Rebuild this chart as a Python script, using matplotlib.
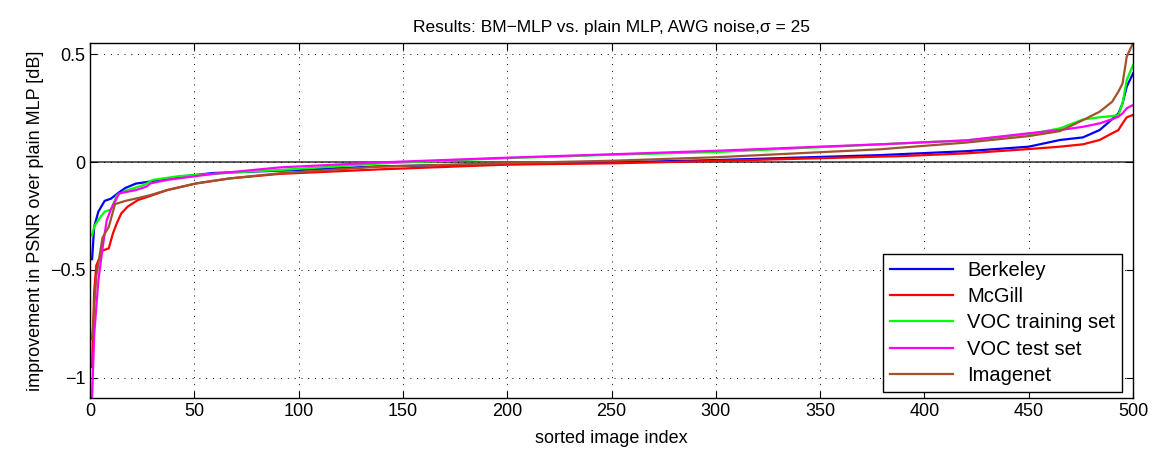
import matplotlib
matplotlib.use('Agg')
import matplotlib.pyplot as plt

plt.rcParams['font.family'] = ['Liberation Sans', 'DejaVu Sans']

# sorted image index -> improvement [dB]
berkeley_idx = [1, 2, 4, 7, 10, 14, 17, 22, 27, 43, 59, 91, 100, 139, 200, 251, 300, 379, 388, 420, 450, 465, 476, 484, 490, 493, 495, 497, 500]
berkeley_val = [-0.45, -0.30, -0.23, -0.18, -0.17, -0.14, -0.12, -0.10, -0.093, -0.068, -0.051, -0.040, -0.037, -0.02, -0.01, -0.002, 0.009, 0.032, 0.036, 0.05, 0.071, 0.102, 0.114, 0.148, 0.198, 0.225, 0.272, 0.349, 0.41]

mcgill_idx = [1, 2, 3, 6, 9, 11, 13, 15, 18, 23, 29, 37, 51, 67, 91, 139, 200, 251, 300, 379, 388, 420, 450, 465, 476, 484, 490, 493, 495, 497, 500]
mcgill_val = [-0.95, -0.6, -0.48, -0.41, -0.40, -0.33, -0.28, -0.238, -0.207, -0.176, -0.157, -0.13, -0.099, -0.076, -0.055, -0.034, -0.012, -0.006, 0.005, 0.025, 0.027, 0.04, 0.06, 0.071, 0.082, 0.102, 0.133, 0.148, 0.179, 0.207, 0.218]

voc_train_idx = [1, 2, 4, 7, 10, 13, 18, 26, 30, 43, 75, 91, 139, 200, 251, 300, 379, 388, 420, 450, 465, 476, 484, 490, 493, 495, 497, 500]
voc_train_val = [-0.34, -0.30, -0.268, -0.23, -0.22, -0.153, -0.13, -0.106, -0.083, -0.065, -0.045, -0.037, -0.007, 0.018, 0.034, 0.046, 0.082, 0.086, 0.10, 0.129, 0.156, 0.197, 0.207, 0.213, 0.217, 0.272, 0.38, 0.449]

voc_test_idx = [1, 2, 4, 6, 8, 10, 14, 22, 27, 29, 37, 59, 91, 139, 200, 251, 300, 379, 388, 420, 450, 465, 476, 484, 490, 493, 495, 497, 500]
voc_test_val = [-1.09, -0.8, -0.55, -0.40, -0.27, -0.22, -0.145, -0.13, -0.114, -0.099, -0.083, -0.055, -0.025, -0.002, 0.02, 0.036, 0.052, 0.082, 0.086, 0.10, 0.133, 0.148, 0.163, 0.179, 0.198, 0.21, 0.225, 0.249, 0.264]

imagenet_idx = [1, 3, 6, 9, 12, 17, 24, 29, 37, 51, 67, 91, 139, 200, 251, 300, 379, 388, 420, 450, 465, 476, 484, 490, 493, 495, 497, 500]
imagenet_val = [-0.82, -0.53, -0.35, -0.30, -0.195, -0.18, -0.165, -0.153, -0.13, -0.099, -0.076, -0.052, -0.021, -0.005, 0.006, 0.022, 0.059, 0.066, 0.09, 0.12, 0.143, 0.194, 0.233, 0.279, 0.326, 0.364, 0.488, 0.55]

series = [
    ('Berkeley', berkeley_idx, berkeley_val, '#0000ff'),
    ('McGill', mcgill_idx, mcgill_val, '#ff0000'),
    ('VOC training set', voc_train_idx, voc_train_val, '#00ff00'),
    ('VOC test set', voc_test_idx, voc_test_val, '#ff00ff'),
    ('Imagenet', imagenet_idx, imagenet_val, '#a0522d'),
]

fig = plt.figure(figsize=(11.54, 4.53), dpi=100)
ax = fig.add_axes([0.078, 0.1214, 0.9038, 0.7836])

ax.axhline(0, color='0.25', lw=1.2, zorder=1)
for name, xi, yi, c in series:
    ax.plot(xi, yi, color=c, lw=1.6, label=name, zorder=2)

ax.set_xlim(0, 500)
ax.set_ylim(-1.093, 0.551)
ax.set_xticks(range(0, 501, 50))
ax.set_yticks([-1, -0.5, 0, 0.5])
ax.set_yticklabels(['\u22121', '\u22120.5', '0', '0.5'])
ax.grid(True, color='k', linestyle=(0, (1, 6)), lw=0.7)
ax.tick_params(direction='in', top=True, right=True, labelsize=13, length=5)
for s in ax.spines.values():
    s.set_linewidth(1.0)

ax.set_xlabel('sorted image index', fontsize=13, labelpad=7)
ax.set_ylabel('improvement in PSNR over plain MLP [dB]', fontsize=13, labelpad=4)
ax.set_title('Results: BM\u2212MLP vs. plain MLP, AWG noise,\u03c3 = 25', fontsize=12.5, pad=8)

leg = ax.legend(loc='lower right', bbox_to_anchor=(1 - 11 / 1043, 6 / 355),
                fontsize=14.5, fancybox=False, framealpha=1,
                edgecolor='k', borderaxespad=0, handlelength=3.1,
                handletextpad=0.7, labelspacing=0.36, borderpad=0.35)
leg.get_frame().set_linewidth(1.0)

fig.savefig('out.png', dpi=100)
